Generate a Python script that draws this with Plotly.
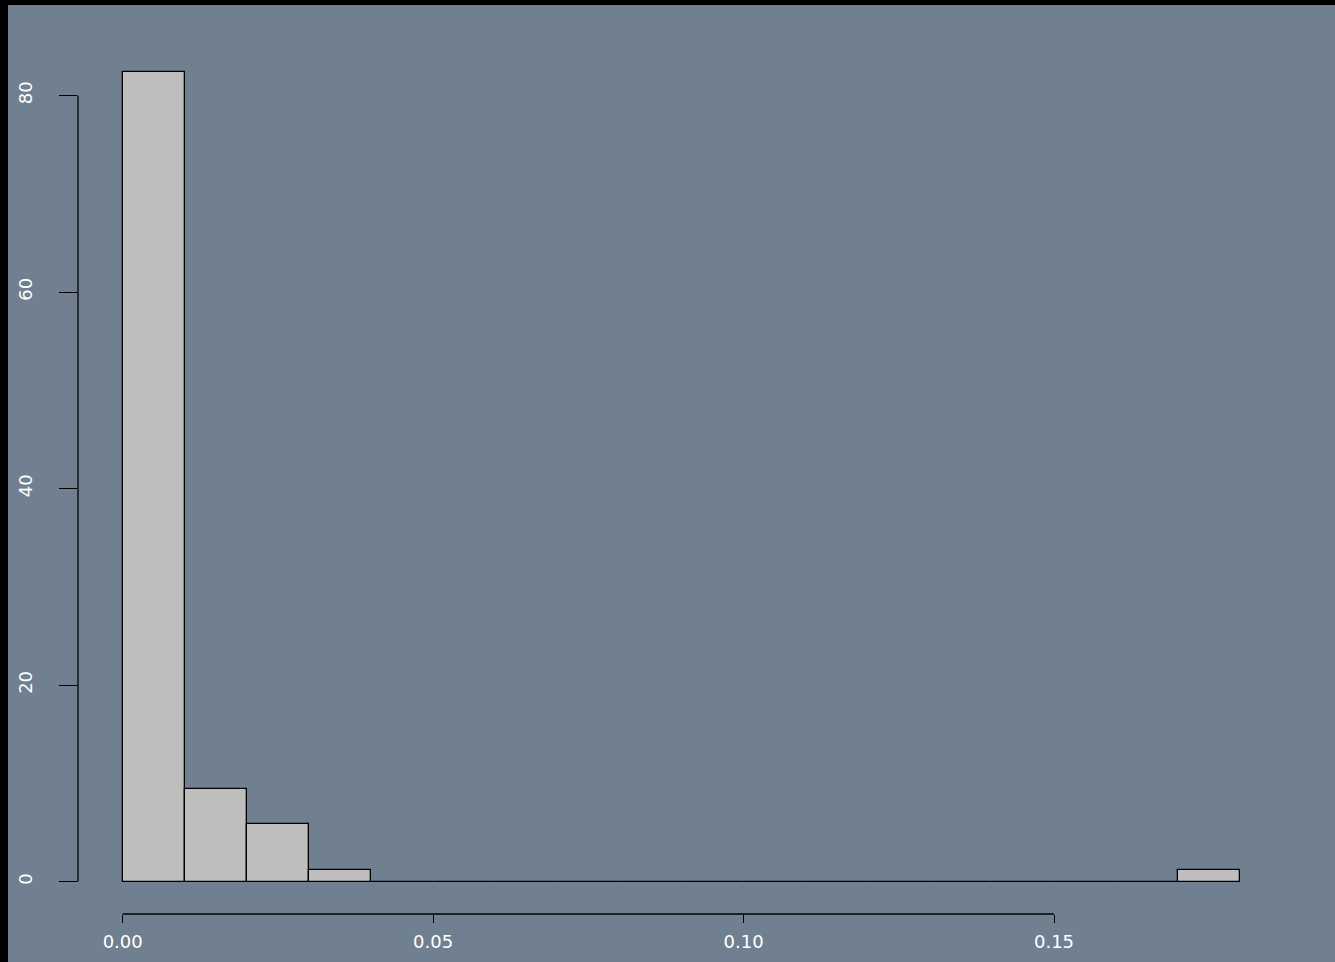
import plotly.graph_objects as go

bin_left = [0.00, 0.01, 0.02, 0.03, 0.04, 0.05, 0.06, 0.07, 0.08, 0.09,
            0.10, 0.11, 0.12, 0.13, 0.14, 0.15, 0.16, 0.17]
bin_width = 0.01
density = [82.35, 9.41, 5.88, 1.18, 0, 0, 0, 0, 0, 0,
           0, 0, 0, 0, 0, 0, 0, 1.18]
x_ticks = [0.00, 0.05, 0.10, 0.15]
x_ticklabels = ["0.00", "0.05", "0.10", "0.15"]
y_ticks = [0, 20, 40, 60, 80]
y_ticklabels = ["0", "20", "40", "60", "80"]

BG = "#708090"
W, H = 1335, 962
ml, mr, mt, mb = 78, 50, 40, 48

x_lo, x_hi = bin_left[0], bin_left[-1] + bin_width
xr = [x_lo - 0.04 * (x_hi - x_lo), x_hi + 0.04 * (x_hi - x_lo)]
y_hi = max(density)
yr = [-0.04 * y_hi, y_hi * 1.04]

centers = [b + bin_width / 2 for b in bin_left]

fig = go.Figure()
fig.add_trace(go.Bar(
    x=centers, y=density, width=[bin_width] * len(centers),
    marker=dict(color="#BEBEBE", line=dict(color="black", width=1.3)),
    showlegend=False, hoverinfo="skip",
))

font = dict(family="DejaVu Sans", size=18, color="white")

pw = W - ml - mr
ph = H - mt - mb
shapes = [
    # black border strips at top and left
    dict(type="rect", xref="paper", yref="paper",
         x0=-ml / pw, x1=(-ml + 8) / pw, y0=-mb / ph, y1=1 + mt / ph,
         fillcolor="black", line=dict(width=0), layer="below"),
    dict(type="rect", xref="paper", yref="paper",
         x0=-ml / pw, x1=1 + mr / pw, y0=1 + (mt - 5) / ph, y1=1 + mt / ph,
         fillcolor="black", line=dict(width=0), layer="below"),
    # R-style axis lines spanning tick range
    dict(type="line", xref="x", yref="paper", x0=min(x_ticks), x1=max(x_ticks),
         y0=0, y1=0, line=dict(color="black", width=1.3)),
    dict(type="line", xref="paper", yref="y", x0=0, x1=0,
         y0=min(y_ticks), y1=max(y_ticks), line=dict(color="black", width=1.3)),
]

fig.update_layout(
    width=W, height=H,
    margin=dict(l=ml, r=mr, t=mt, b=mb, pad=0, autoexpand=False),
    paper_bgcolor=BG, plot_bgcolor=BG,
    bargap=0,
    shapes=shapes,
    font=font,
    xaxis=dict(range=xr, showgrid=False, zeroline=False, showline=False,
               automargin=False,
               tickvals=x_ticks, ticktext=x_ticklabels, ticks="outside",
               ticklen=8, tickwidth=1.3, tickcolor="black",
               tickfont=font, ticklabelstandoff=3),
    yaxis=dict(range=yr, showgrid=False, zeroline=False, showline=False,
               automargin=False,
               tickvals=y_ticks, ticktext=y_ticklabels, ticks="outside",
               ticklen=18, tickwidth=1.3, tickcolor="black",
               tickangle=-90, tickfont=font, ticklabelstandoff=20),
)

fig.write_html("out.html")
